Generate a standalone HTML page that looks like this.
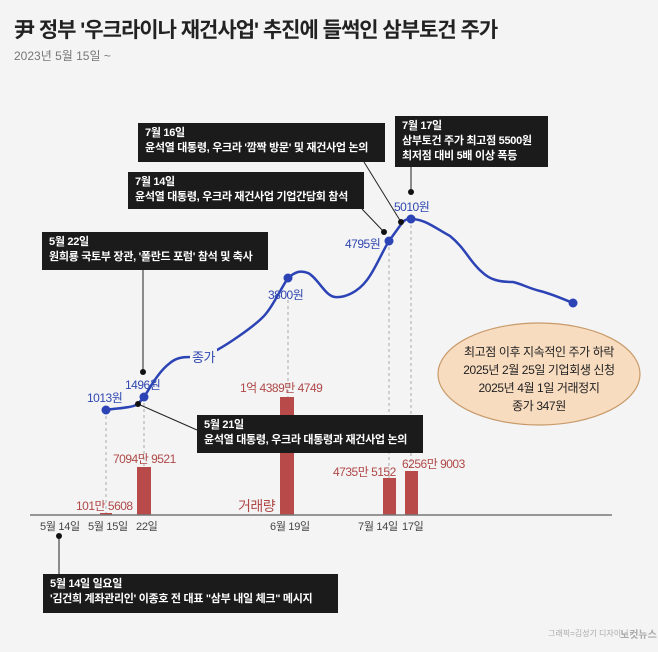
<!DOCTYPE html>
<html><head><meta charset="utf-8"><style>
body{margin:0;width:658px;height:652px;background:#f4f4f4;overflow:hidden;font-family:"Liberation Sans","Noto Sans CJK KR",sans-serif;position:relative}
.a{position:absolute;white-space:nowrap}
.box{position:absolute;background:#1b1b1b;color:#fff;font-weight:bold;font-size:11px;line-height:15px;padding:3px 7px;box-sizing:border-box;letter-spacing:-0.3px}
.bl{color:#2f47b0;font-size:12px;letter-spacing:-0.5px}
.rd{color:#b04848;font-size:12px;letter-spacing:-0.5px}
.ax{color:#444;font-size:11px;letter-spacing:-0.3px}
</style></head><body>
<div class="a" style="left:14px;top:14px;font-size:21px;font-weight:bold;color:#222;letter-spacing:-1px">尹 정부 '우크라이나 재건사업' 추진에 들썩인 삼부토건 주가</div>
<div class="a" style="left:14px;top:47px;font-size:12px;color:#777">2023년 5월 15일 ~</div>

<svg width="658" height="652" style="position:absolute;left:0;top:0">
<g stroke="#aaa" stroke-dasharray="3,3" stroke-width="1">
<line x1="106" y1="410" x2="106" y2="515"/><line x1="144" y1="397" x2="144" y2="515"/>
<line x1="288" y1="300" x2="288" y2="397"/><line x1="389" y1="241" x2="389" y2="478"/><line x1="411" y1="219" x2="411" y2="471"/>
</g>
<g fill="#b84a4a">
<rect x="100" y="513" width="12" height="2"/><rect x="137" y="467" width="14" height="48"/>
<rect x="280" y="397" width="14" height="118"/><rect x="383" y="478" width="13" height="37"/><rect x="405" y="471" width="13" height="44"/>
</g>
<line x1="30" y1="515" x2="612" y2="515" stroke="#777" stroke-width="1.5"/>
<path d="M106,410 C118,408 132,408 138,404 L144,397 C150,388 158,372 170,363 C176,358 182,357 190,357 L217,350 C228,344 252,328 263,317 C272,308 280,290 288,278 C295,272 300,270 308,273 C318,278 325,296 335,297 C345,298 358,292 367,280 C375,270 382,252 389,241 L402,223 C405,219 408,219 411,219 C425,219 435,228 450,236 C465,248 470,262 482,272 C490,280 500,282 513,282 C522,284 528,288 540,291 C552,294 563,299 573,303" fill="none" stroke="#2c43b5" stroke-width="2.5"/>
<g fill="#2c43b5"><circle cx="106" cy="410" r="4.5"/><circle cx="144" cy="397" r="4.5"/><circle cx="288" cy="278" r="4.5"/><circle cx="389" cy="241" r="4.5"/><circle cx="411" cy="219" r="4.5"/><circle cx="573" cy="303" r="4.5"/></g>
<g stroke="#222" stroke-width="1" fill="none">
<line x1="143" y1="270" x2="143" y2="372"/><line x1="364" y1="162" x2="401" y2="222"/><line x1="362" y1="209" x2="384" y2="232"/>
<line x1="411" y1="167" x2="411" y2="192"/><line x1="138" y1="404" x2="197" y2="430"/><line x1="59" y1="536" x2="59" y2="574"/>
</g>
<g fill="#111"><circle cx="143" cy="372" r="3"/><circle cx="401" cy="222" r="3"/><circle cx="384" cy="232" r="3"/><circle cx="411" cy="192" r="3"/><circle cx="138" cy="404" r="3"/><circle cx="59" cy="536" r="3"/></g>
<ellipse cx="539" cy="374" rx="101" ry="51" fill="#f8dcc0" stroke="#c89a6a" stroke-width="1.2"/>
</svg>

<div class="a bl" style="left:87px;top:389px">1013원</div>
<div class="a bl" style="left:125px;top:376px">1496원</div>
<div class="a bl" style="left:268px;top:286px">3800원</div>
<div class="a bl" style="left:345px;top:235px">4795원</div>
<div class="a bl" style="left:394px;top:198px">5010원</div>
<div class="a bl" style="left:190px;top:347px;font-size:13px;background:#f4f4f4;padding:0 2px">종가</div>

<div class="a rd" style="left:76px;top:497px">101만 5608</div>
<div class="a rd" style="left:113px;top:450px">7094만 9521</div>
<div class="a rd" style="left:240px;top:379px">1억 4389만 4749</div>
<div class="a rd" style="left:238px;top:496px;font-size:14px">거래량</div>
<div class="a rd" style="left:333px;top:463px">4735만 5152</div>
<div class="a rd" style="left:402px;top:455px">6256만 9003</div>

<div class="a ax" style="left:40px;top:518px">5월 14일</div>
<div class="a ax" style="left:88px;top:518px">5월 15일</div>
<div class="a ax" style="left:136px;top:518px">22일</div>
<div class="a ax" style="left:270px;top:518px">6월 19일</div>
<div class="a ax" style="left:358px;top:518px">7월 14일</div>
<div class="a ax" style="left:402px;top:518px">17일</div>

<div class="box" style="left:138px;top:123px;width:247px;height:39px">7월 16일<br>윤석열 대통령, 우크라 '깜짝 방문' 및 재건사업 논의</div>
<div class="box" style="left:128px;top:172px;width:236px;height:37px">7월 14일<br>윤석열 대통령, 우크라 재건사업 기업간담회 참석</div>
<div class="box" style="left:42px;top:232px;width:226px;height:38px">5월 22일<br>원희룡 국토부 장관, '폴란드 포럼' 참석 및 축사</div>
<div class="box" style="left:395px;top:116px;width:153px;height:51px">7월 17일<br>삼부토건 주가 최고점 5500원<br>최저점 대비 5배 이상 폭등</div>
<div class="box" style="left:197px;top:415px;width:226px;height:38px">5월 21일<br>윤석열 대통령, 우크라 대통령과 재건사업 논의</div>
<div class="box" style="left:43px;top:574px;width:295px;height:39px">5월 14일 일요일<br>'김건희 계좌관리인' 이종호 전 대표 "삼부 내일 체크" 메시지</div>

<div class="a" style="left:438px;top:343px;width:202px;text-align:center;font-size:12px;line-height:18px;color:#222;letter-spacing:-0.4px">최고점 이후 지속적인 주가 하락<br>2025년 2월 25일 기업회생 신청<br>2025년 4월 1일 거래정지<br>종가 347원</div>

<div class="a" style="left:548px;top:628px;font-size:8px;color:#aaa">그래픽=김성기 디자이너</div>
<div class="a" style="left:620px;top:626px;font-size:10px;color:#aaa;font-weight:bold">노컷뉴스</div>
</body></html>
